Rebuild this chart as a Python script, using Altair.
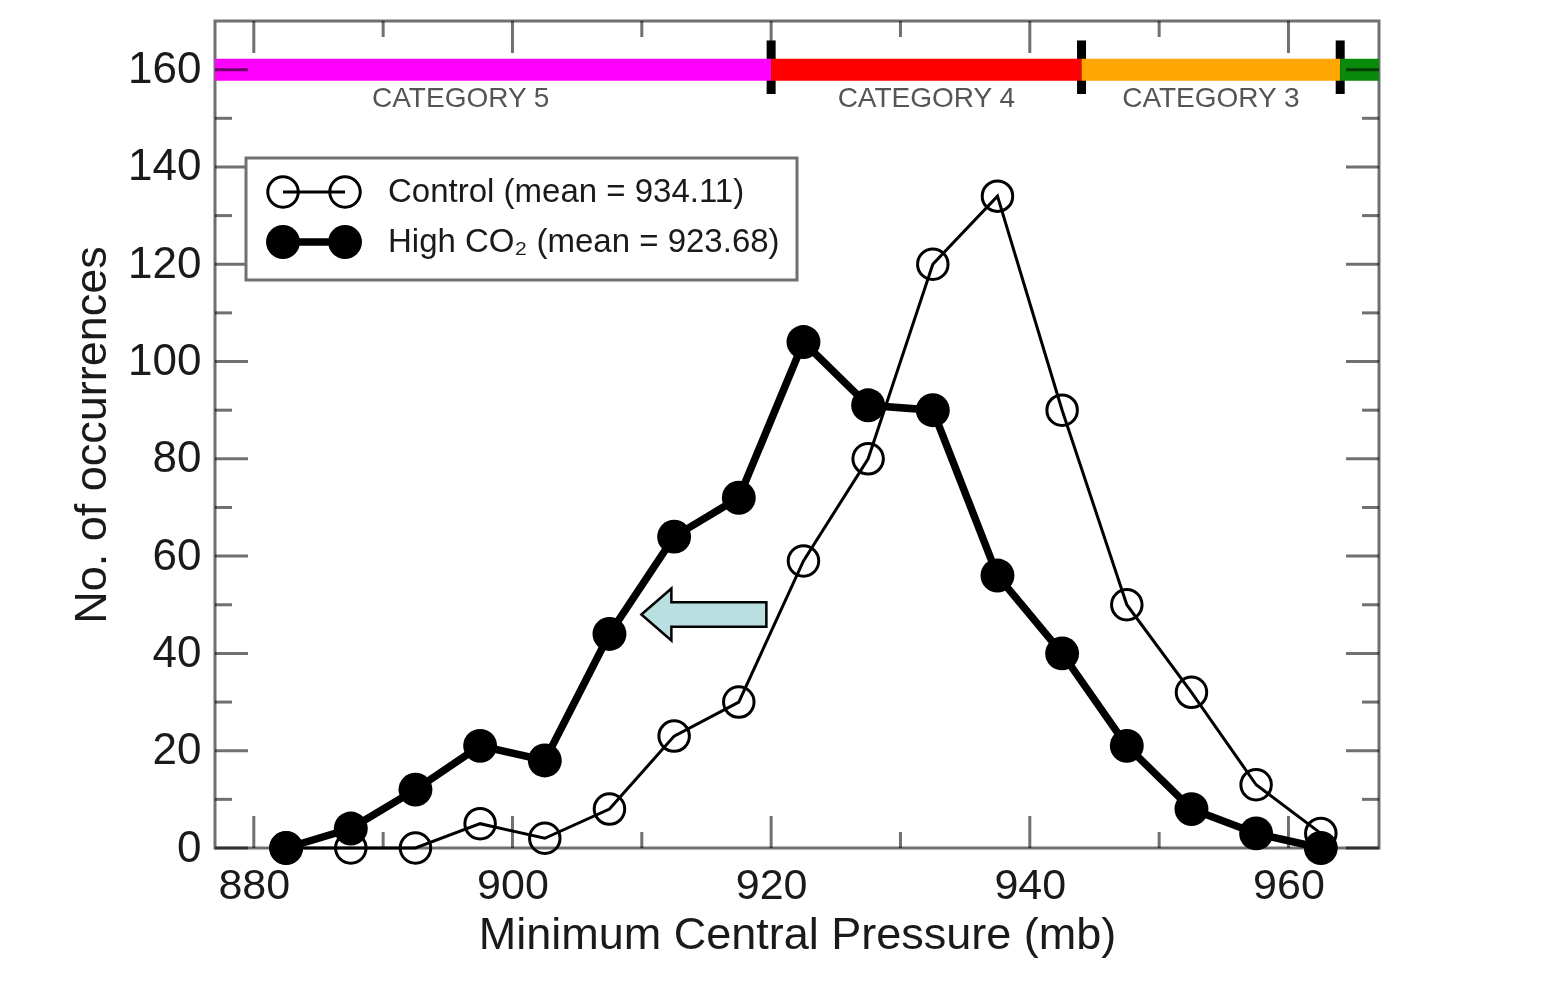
import altair as alt
import pandas as pd

# ---------------- data ----------------
pressure = [882.5, 887.5, 892.5, 897.5, 902.5, 907.5, 912.5, 917.5, 922.5,
            927.5, 932.5, 937.5, 942.5, 947.5, 952.5, 957.5, 962.5]
control = [0, 0, 0, 5, 2, 8, 23, 30, 59, 80, 120, 134, 90, 50, 32, 13, 3]
high_co2 = [0, 4, 12, 21, 18, 44, 64, 72, 104, 91, 90, 56, 40, 21, 8, 3, 0]

cat_labels = ["CATEGORY 5", "CATEGORY 4", "CATEGORY 3", ""]
cat_start = [872, 920, 944, 964]
cat_end = [920, 944, 964, 980]
cat_colors = ["#ff00ff", "#ff0000", "#ffa500", "#0a8a0a"]
cat_bounds = [920, 944, 964]
cat_bar_level = 160
cat_label_level = 154
cat_mark_low, cat_mark_high = 155, 166

x_labels = [880, 900, 920, 940, 960]
x_minor = [890, 910, 930, 950]
y_labels = [0, 20, 40, 60, 80, 100, 120, 140, 160]
y_minor = [10, 30, 50, 70, 90, 110, 130, 150]

legend_text = ["Control (mean = 934.11)", "High CO\u2082 (mean = 923.68)"]
arrow_at = (914.8, 48)

# ---------------- layout / style ----------------
W, H = 1164, 827
FONT = "Liberation Sans"
GRAY = "#707070"

xscale = alt.Scale(domain=[877, 967], nice=False, zero=False)
yscale = alt.Scale(domain=[0, 170], nice=False, zero=True)
xaxis = alt.Axis(values=x_labels, ticks=False, tickSize=0, domain=False, grid=False,
                 labelFont=FONT, labelFontSize=43, labelColor="#1a1a1a",
                 labelPadding=16, titleFont=FONT, titleFontSize=45,
                 titleFontWeight="normal", titleColor="#1a1a1a", titlePadding=5)
yaxis = alt.Axis(values=y_labels, ticks=False, tickSize=0, domain=False, grid=False,
                 labelFont=FONT, labelFontSize=44, labelColor="#1a1a1a",
                 labelPadding=14, titleFont=FONT, titleFontSize=45,
                 titleFontWeight="normal", titleColor="#1a1a1a", titlePadding=13)
XT = "Minimum Central Pressure (mb)"
YT = "No. of occurrences"


def X(field):
    return alt.X(field, type="quantitative", scale=xscale, axis=xaxis, title=XT)


def Y(field):
    return alt.Y(field, type="quantitative", scale=yscale, axis=yaxis, title=YT)


one = alt.Data(values=[{}])

# long data for series
df = pd.DataFrame({
    "pressure": pressure * 2,
    "count": control + high_co2,
    "series": ["Control"] * len(pressure) + ["High"] * len(pressure),
})
base = alt.Chart(df)

OPEN_SIZE = 930
FILL_SIZE = 1150

ctrl_line = base.mark_line(color="black", strokeWidth=3).encode(
    x=X("pressure"), y=Y("count")).transform_filter(alt.datum.series == "Control")
ctrl_pts = base.mark_point(shape="circle", filled=False, color="black", strokeWidth=3,
                           size=OPEN_SIZE, opacity=1).encode(
    x=X("pressure"), y=Y("count")).transform_filter(alt.datum.series == "Control")
high_line = base.mark_line(color="black", strokeWidth=7.5).encode(
    x=X("pressure"), y=Y("count")).transform_filter(alt.datum.series == "High")
high_pts = base.mark_circle(color="black", size=FILL_SIZE, opacity=1).encode(
    x=X("pressure"), y=Y("count")).transform_filter(alt.datum.series == "High")

# category bar
cat_df = pd.DataFrame({"label": cat_labels, "start": cat_start, "end": cat_end,
                       "level": [cat_bar_level] * 4, "tlevel": [cat_label_level] * 4,
                       "key": ["c5", "c4", "c3", "c2"]})
cat_color = alt.Color("key:N", scale=alt.Scale(domain=["c5", "c4", "c3", "c2"],
                                               range=cat_colors), legend=None)
cat_bar = alt.Chart(cat_df).mark_rule(strokeWidth=22, strokeCap="butt", clip=True).encode(
    x=X("start"), x2="end", y=Y("level"), color=cat_color)
cat_text = alt.Chart(cat_df).transform_filter(alt.datum.label != "").transform_calculate(
    mid="(datum.start + datum.end) / 2").mark_text(
    font=FONT, fontSize=28, color="#555555", baseline="middle", align="center").encode(
    x=X("mid"), y=Y("tlevel"), text="label:N")
bnd_df = pd.DataFrame({"b": cat_bounds, "lo": [cat_mark_low] * 3, "hi": [cat_mark_high] * 3})
cat_marks = alt.Chart(bnd_df).mark_rule(color="black", strokeWidth=9, strokeCap="butt").encode(
    x=X("b"), y=Y("lo"), y2="hi")


# inward ticks
def xticks(vals, L, top):
    y0, y1 = (0, L) if top else (H, H - L)
    return alt.Chart(pd.DataFrame({"v": vals})).mark_rule(
        color=GRAY, strokeWidth=3, blend="multiply").encode(
        x=X("v"), y=alt.value(y0), y2=alt.value(y1))


def yticks(vals, L, right):
    x0, x1 = (W, W - L) if right else (0, L)
    return alt.Chart(pd.DataFrame({"v": vals})).mark_rule(
        color=GRAY, strokeWidth=3, blend="multiply").encode(
        y=Y("v"), x=alt.value(x0), x2=alt.value(x1))


ticks = [xticks(x_labels, 32, False), xticks(x_minor, 16, False),
         xticks(x_labels, 32, True), xticks(x_minor, 16, True),
         yticks(y_labels, 33, False), yticks(y_minor, 17, False),
         yticks(y_labels, 33, True), yticks(y_minor, 17, True)]

# legend (drawn inside plot)
leg_box = alt.Chart(one).mark_rect(fill="white", stroke=GRAY, strokeWidth=3).encode(
    x=alt.value(31), x2=alt.value(582), y=alt.value(137), y2=alt.value(259))
leg_l1 = alt.Chart(one).mark_rule(color="black", strokeWidth=3).encode(
    x=alt.value(68), x2=alt.value(130), y=alt.value(171))
leg_l2 = alt.Chart(one).mark_rule(color="black", strokeWidth=7.5).encode(
    x=alt.value(68), x2=alt.value(130), y=alt.value(221))
leg_p1 = alt.Chart(alt.Data(values=[{"px": 68}, {"px": 130}])).mark_point(
    shape="circle", filled=False, color="black", strokeWidth=3, size=OPEN_SIZE,
    opacity=1).encode(x=alt.X("px:Q", scale=None), y=alt.value(171))
leg_p2 = alt.Chart(alt.Data(values=[{"px": 68}, {"px": 130}])).mark_circle(
    color="black", size=FILL_SIZE, opacity=1).encode(
    x=alt.X("px:Q", scale=None), y=alt.value(221))
leg_t1 = alt.Chart(one).mark_text(font=FONT, fontSize=33, color="#1a1a1a", align="left",
                                  baseline="middle", text=legend_text[0]).encode(
    x=alt.value(173), y=alt.value(171))
leg_t2 = alt.Chart(one).mark_text(font=FONT, fontSize=33, color="#1a1a1a", align="left",
                                  baseline="middle", text=legend_text[1]).encode(
    x=alt.value(173), y=alt.value(221))

# arrow (custom symbol)
arrow_path = ("M -1 0 L -0.52 -0.416 L -0.52 -0.197 L 1 -0.197 L 1 0.197 "
              "L -0.52 0.197 L -0.52 0.416 Z")
arrow = alt.Chart(alt.Data(values=[{"ax": arrow_at[0], "ay": arrow_at[1]}])).mark_point(
    shape=arrow_path, size=15625, filled=True, fill="#b9dfe0", stroke="black",
    strokeWidth=2.5, opacity=1, fillOpacity=1).encode(x=X("ax"), y=Y("ay"))

chart = alt.layer(
    cat_marks, cat_bar, *ticks, cat_text,
    leg_box, leg_l1, leg_l2, leg_p1, leg_p2, leg_t1, leg_t2,
    arrow, high_line, high_pts, ctrl_line, ctrl_pts,
).properties(
    width=W, height=H,
    autosize=alt.AutoSizeParams(type="none"),
    padding={"left": 207, "top": 13, "right": 150, "bottom": 140},
    background="white",
).configure_view(stroke=GRAY, strokeWidth=3)

chart.save("out.html", embed_options={"renderer": "svg", "actions": False})
